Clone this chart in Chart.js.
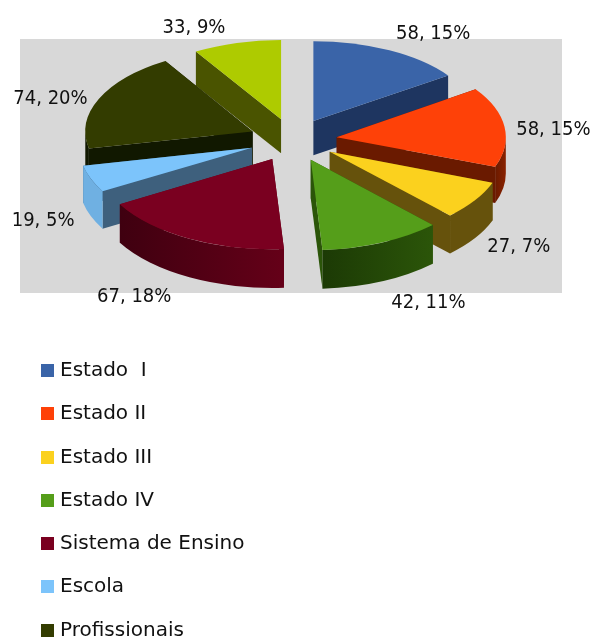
<!DOCTYPE html>
<html>
<head>
<meta charset="utf-8">
<script src="https://cdn.jsdelivr.net/npm/chart.js@4"></script>
<style>
  html, body { margin: 0; padding: 0; background: #fff; width: 594px; height: 639px; overflow: hidden; }
  #fundo { position: absolute; left: 20px; top: 39px; width: 542px; height: 254px; background: #d8d8d8; }
  #grafico { position: absolute; left: 0; top: 0; }
  #legenda { position: absolute; left: 41px; top: 348px; margin: 0; padding: 0; list-style: none;
             font: 20px "DejaVu Sans", sans-serif; color: #111; }
  #legenda li { height: 43.3px; line-height: 43.3px; white-space: pre; }
  #legenda i { display: inline-block; width: 13px; height: 13px; margin-right: 6px; vertical-align: -1px; }
</style>
</head>
<body>
<div id="fundo"></div>
<canvas id="grafico" width="594" height="639"></canvas>
<ul id="legenda"></ul>
<script>
// ======================
// Dados
// ======================
const categorias = ["Estado  I", "Estado II", "Estado III", "Estado IV", "Sistema de Ensino", "Escola", "Profissionais", ""];
const valores = [58, 58, 27, 42, 67, 19, 74, 33];

// ======================
// Cores
// ======================
const coresTopo = ["#3a64a8", "#fe4108", "#fbd11e", "#559e1a", "#7a0020", "#7cc4fb", "#333c00", "#aecb00"];
const coresCorte = ["#1e3560", "#6a1a00", "#66520c", "#2b5509", "#650018", "#3e607d", "#111800", "#4a5400"];
const coresBordaIni = ["#1e3560", "#6a1a00", "#66520c", "#1c3a05", "#3f0010", "#6fb0e2", "#111800", "#4a5400"];
const coresBordaFim = ["#1e3560", "#8a2200", "#66520c", "#2b5509", "#650018", "#6fb0e2", "#111800", "#4a5400"];

// deslocamento de cada rótulo a partir da borda da fatia
const ajusteRotulos = [[41, -13], [48, 3], [47, 49], [49, 67], [-58, 64], [-50, 43], [-46, 0], [-41, -11]];

const achatamento = 0.49;
const explosao = 44;

// fatias da frente ficam um pouco maiores (perspectiva)
function geometria(arc) {
  const meio = (arc.startAngle + arc.endAngle) / 2;
  const frente = Math.sin(meio);
  return {
    x: arc.x + Math.cos(meio) * explosao,
    y: arc.y + Math.sin(meio) * explosao * achatamento,
    rx: arc.outerRadius * (1 + 0.04 * frente),
    ry: arc.outerRadius * (0.5 + 0.035 * frente),
    prof: 36.5 + 2.5 * frente
  };
}

function desenharCorte(ctx, g, angulo, cor) {
  const px = g.x + Math.cos(angulo) * g.rx;
  const py = g.y + Math.sin(angulo) * g.ry;
  ctx.fillStyle = cor;
  ctx.beginPath();
  ctx.moveTo(g.x, g.y);
  ctx.lineTo(px, py);
  ctx.lineTo(px, py + g.prof);
  ctx.lineTo(g.x, g.y + g.prof);
  ctx.closePath();
  ctx.fill();
}

function desenharBorda(ctx, g, ini, fim, i) {
  const a0 = Math.max(ini, 0);
  const a1 = Math.min(fim, Math.PI);
  if (a1 <= a0) return;
  const x0 = g.x + Math.cos(a1) * g.rx;
  const x1 = g.x + Math.cos(a0) * g.rx;
  const grad = ctx.createLinearGradient(x0, 0, x1 + 0.01, 0);
  grad.addColorStop(0, coresBordaIni[i]);
  grad.addColorStop(1, coresBordaFim[i]);
  ctx.fillStyle = grad;
  ctx.beginPath();
  ctx.ellipse(g.x, g.y, g.rx, g.ry, 0, a0, a1);
  ctx.ellipse(g.x, g.y + g.prof, g.rx, g.ry, 0, a1, a0, true);
  ctx.closePath();
  ctx.fill();
}

// paredes laterais primeiro, depois os topos achatados e deslocados
const pizza3d = {
  id: "pizza3d",
  beforeDatasetDraw(chart) {
    const ctx = chart.ctx;
    const arcs = chart.getDatasetMeta(0).data;
    const ordem = arcs.map((a, i) => i).sort((p, q) => geometria(arcs[p]).y - geometria(arcs[q]).y);
    ordem.forEach(i => {
      const arc = arcs[i];
      const g = geometria(arc);
      const angulos = [arc.startAngle, arc.endAngle].sort((p, q) => Math.sin(p) - Math.sin(q));
      angulos.forEach(a => desenharCorte(ctx, g, a, coresCorte[i]));
      desenharBorda(ctx, g, arc.startAngle, arc.endAngle, i);
      desenharBorda(ctx, g, arc.startAngle - 2 * Math.PI, arc.endAngle - 2 * Math.PI, i);
    });
    arcs.forEach(arc => {
      const g = geometria(arc);
      ctx.save();
      ctx.translate(g.x, g.y);
      ctx.scale(g.rx / arc.outerRadius, g.ry / arc.outerRadius);
      ctx.translate(-arc.x, -arc.y);
      arc.draw(ctx);
      ctx.restore();
    });
    return false;
  },
  afterDatasetsDraw(chart) {
    const ctx = chart.ctx;
    const total = valores.reduce((s, v) => s + v, 0);
    ctx.font = '20px "DejaVu Sans Condensed", "DejaVu Sans", sans-serif';
    ctx.fillStyle = "#111";
    ctx.textAlign = "center";
    ctx.textBaseline = "middle";
    chart.getDatasetMeta(0).data.forEach((arc, i) => {
      const meio = (arc.startAngle + arc.endAngle) / 2;
      const r = arc.outerRadius + explosao;
      const x = arc.x + Math.cos(meio) * r + ajusteRotulos[i][0];
      const y = arc.y + Math.sin(meio) * r * achatamento + ajusteRotulos[i][1];
      ctx.fillText(valores[i] + ", " + Math.round(valores[i] / total * 100) + "%", x, y);
    });
  }
};

new Chart(document.getElementById("grafico").getContext("2d"), {
  type: "pie",
  data: {
    labels: categorias,
    datasets: [{
      data: valores,
      backgroundColor: coresTopo,
      borderWidth: 0,
      clip: false
    }]
  },
  options: {
    responsive: false,
    animation: false,
    radius: 170,
    layout: { padding: { right: 8, bottom: 359 } },
    plugins: { legend: { display: false }, tooltip: { enabled: false } }
  },
  plugins: [pizza3d]
});

const legenda = document.getElementById("legenda");
categorias.forEach((nome, i) => {
  if (!nome) return;
  const li = document.createElement("li");
  const marca = document.createElement("i");
  marca.style.background = coresTopo[i];
  li.appendChild(marca);
  li.appendChild(document.createTextNode(nome));
  legenda.appendChild(li);
});
</script>
</body>
</html>
